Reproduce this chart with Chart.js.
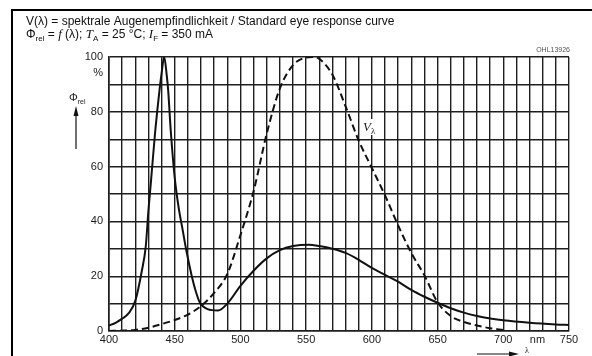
<!DOCTYPE html>
<html>
<head>
<meta charset="utf-8">
<script src="https://cdn.jsdelivr.net/npm/chart.js@4.4.0/dist/chart.umd.min.js"></script>
<style>
  body { margin: 0; background: #fff; }
  canvas { display: block; }
</style>
</head>
<body>
<canvas id="chart" width="592" height="356"></canvas>
<script>
// LED emission (solid) - wavelength in nm, relative flux in %
const ledNm = [400, 405, 410, 415, 420, 425, 428, 430, 432, 435, 438, 440, 442, 444, 445, 447, 450, 453, 456, 459, 463, 466, 469, 475, 483, 490, 500, 510, 520, 530, 540, 552, 560, 570, 580, 590, 600, 610, 620, 630, 640, 650, 660, 670, 680, 690, 700, 720, 740, 750];
const ledRel = [2, 3, 4.5, 6.5, 11, 22, 31, 44, 55, 72, 86, 94, 100, 93, 88, 73, 56, 45, 37, 29, 20, 14.5, 10.5, 8, 7.5, 10, 16.5, 22, 26.5, 29.5, 31, 31.5, 31, 30, 28.5, 26, 23, 20.5, 18, 15, 12.5, 10.3, 8.3, 6.7, 5.5, 4.6, 3.9, 3, 2.4, 2.2];

// V(lambda) eye response curve (dashed)
const eyeNm = [400, 410, 420, 430, 440, 450, 460, 470, 480, 490, 500, 510, 520, 530, 540, 550, 555, 560, 570, 580, 590, 600, 610, 620, 630, 640, 650, 660, 670, 680, 690, 700];
const eyeRel = [0.04, 0.12, 0.4, 1.2, 2.5, 4, 6, 9.1, 13.9, 20.8, 35, 51, 72, 88.5, 97, 99.8, 100, 99.3, 93.5, 82, 69.5, 59.5, 49.5, 38.5, 28.5, 20.3, 10.5, 5.5, 3.3, 2, 1, 0.4];

// axis ticks
const xMin = 400, xMax = 750, xStep = 10, xLabelEvery = 50;
const yMin = 0, yMax = 100, yStep = 10, yLabelEvery = 20;

const toPoints = (xs, ys) => xs.map((x, i) => ({ x: x, y: ys[i] }));

const gridColor = '#1e1e1e';
const sans = '"Liberation Sans", Arial, sans-serif';
const serif = '"Liberation Serif", "Times New Roman", serif';

// draws a row of text pieces one after the other
function drawRun(ctx, x, y, parts) {
    parts.forEach((p) => {
        ctx.font = p.font;
        ctx.fillText(p.t, x, y + (p.dy || 0));
        x += ctx.measureText(p.t).width;
    });
}

const decorations = {
    id: 'decorations',
    afterDatasetsDraw(chart) {
        const ctx = chart.ctx;
        const xs = chart.scales.x;
        const ys = chart.scales.y;
        // V lambda label with white box, right of the dashed curve
        const lx = Math.round(xs.getPixelForValue(593));
        const ly = Math.round(ys.getPixelForValue(73));
        ctx.save();
        ctx.fillStyle = '#fff';
        ctx.fillRect(lx - 1, ly - 12, 15, 16);
        ctx.fillStyle = '#222';
        ctx.textBaseline = 'alphabetic';
        ctx.textAlign = 'left';
        drawRun(ctx, lx, ly, [
            { t: 'V', font: 'italic 13px ' + serif },
            { t: 'λ', font: '9px ' + serif, dy: 3 }
        ]);
        ctx.restore();
    },
    afterDraw(chart) {
        const ctx = chart.ctx;
        const area = chart.chartArea;
        const ys = chart.scales.y;
        const xs = chart.scales.x;
        ctx.save();
        // frame lines (top and left)
        ctx.strokeStyle = '#000';
        ctx.lineWidth = 2;
        ctx.beginPath();
        ctx.moveTo(12, 356);
        ctx.lineTo(12, 10);
        ctx.lineTo(592, 10);
        ctx.stroke();

        ctx.fillStyle = '#111';
        ctx.textAlign = 'left';
        ctx.textBaseline = 'alphabetic';
        ctx.font = '12px ' + sans;
        ctx.fillText('V(λ) = spektrale Augenempfindlichkeit / Standard eye response curve', 26, 25);
        drawRun(ctx, 26, 38, [
            { t: 'Φ', font: '12px ' + sans },
            { t: 'rel', font: '8px ' + sans, dy: 3 },
            { t: ' = ', font: '12px ' + sans },
            { t: 'f', font: 'italic 13px ' + serif },
            { t: ' (λ); ', font: '12px ' + sans },
            { t: 'T', font: 'italic 13px ' + serif },
            { t: 'A', font: '8px ' + sans, dy: 3 },
            { t: ' = 25 °C; ', font: '12px ' + sans },
            { t: 'I', font: 'italic 13px ' + serif },
            { t: 'F', font: '8px ' + sans, dy: 3 },
            { t: ' = 350 mA', font: '12px ' + sans }
        ]);

        // document code
        ctx.fillStyle = '#555';
        ctx.font = '7px ' + sans;
        ctx.textAlign = 'right';
        ctx.fillText('OHL13926', area.right + 1, 52);

        // unit labels
        ctx.fillStyle = '#222';
        ctx.font = '11px ' + sans;
        ctx.textAlign = 'right';
        ctx.textBaseline = 'middle';
        ctx.fillText('%', area.left - 6, ys.getPixelForValue(94));
        ctx.textAlign = 'center';
        ctx.textBaseline = 'top';
        ctx.fillText('nm', xs.getPixelForValue(726), area.bottom + 3);

        // Phi rel with arrow
        ctx.textAlign = 'left';
        ctx.textBaseline = 'alphabetic';
        drawRun(ctx, 69, 101, [
            { t: 'Φ', font: '11px ' + sans },
            { t: 'rel', font: '7px ' + sans, dy: 3 }
        ]);
        ctx.strokeStyle = '#111';
        ctx.fillStyle = '#111';
        ctx.lineWidth = 1.2;
        ctx.beginPath();
        ctx.moveTo(76, 149);
        ctx.lineTo(76, 114);
        ctx.stroke();
        ctx.beginPath();
        ctx.moveTo(76, 106);
        ctx.lineTo(73.5, 116);
        ctx.lineTo(78.5, 116);
        ctx.closePath();
        ctx.fill();

        // lambda arrow at bottom
        ctx.beginPath();
        ctx.moveTo(477, 354);
        ctx.lineTo(512, 354);
        ctx.stroke();
        ctx.beginPath();
        ctx.moveTo(519, 354);
        ctx.lineTo(509, 351.5);
        ctx.lineTo(509, 356.5);
        ctx.closePath();
        ctx.fill();
        ctx.font = '8px ' + serif;
        ctx.fillText('λ', 525, 353);
        ctx.restore();
    }
};

new Chart(document.getElementById('chart'), {
    type: 'line',
    data: {
        datasets: [
            {
                label: 'LED',
                data: toPoints(ledNm, ledRel),
                borderColor: '#111',
                borderWidth: 2,
                cubicInterpolationMode: 'monotone',
                pointRadius: 0,
                fill: false
            },
            {
                label: 'V(λ)',
                data: toPoints(eyeNm, eyeRel),
                borderColor: '#111',
                borderWidth: 2,
                borderDash: [7, 4],
                cubicInterpolationMode: 'monotone',
                pointRadius: 0,
                fill: false
            }
        ]
    },
    options: {
        responsive: false,
        animation: false,
        devicePixelRatio: 1,
        layout: { padding: { left: 0, top: 57, right: 23, bottom: 0 } },
        plugins: {
            legend: { display: false },
            tooltip: { enabled: false }
        },
        scales: {
            x: {
                type: 'linear',
                min: xMin,
                max: xMax,
                afterFit: (scale) => { scale.height = 25; },
                ticks: {
                    stepSize: xStep,
                    autoSkip: false,
                    maxRotation: 0,
                    padding: 2,
                    color: '#222',
                    font: { family: sans, size: 11 },
                    callback: (v) => (v % xLabelEvery === 0 ? v : '')
                },
                grid: { color: gridColor, lineWidth: 1.4, drawTicks: false },
                border: { color: gridColor, width: 1.6 }
            },
            y: {
                min: yMin,
                max: yMax,
                afterFit: (scale) => { scale.width = 109; },
                ticks: {
                    stepSize: yStep,
                    autoSkip: false,
                    padding: 6,
                    color: '#222',
                    font: { family: sans, size: 11 },
                    callback: (v) => (v % yLabelEvery === 0 ? v : '')
                },
                grid: { color: gridColor, lineWidth: 1.4, drawTicks: false },
                border: { color: gridColor, width: 1.6 }
            }
        }
    },
    plugins: [decorations]
});
</script>
</body>
</html>
